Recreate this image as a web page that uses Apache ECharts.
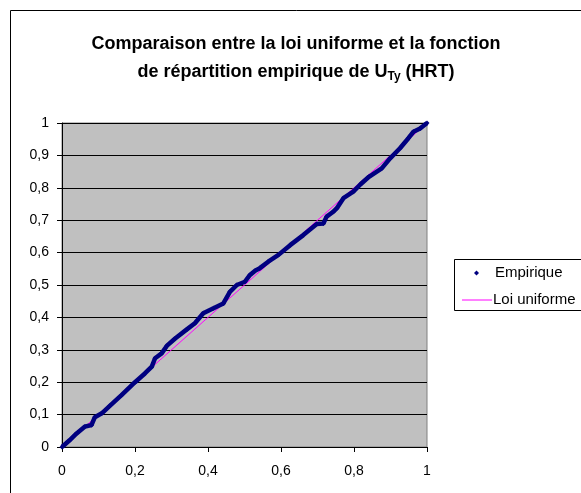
<!DOCTYPE html>
<html>
<head>
<meta charset="utf-8">
<script src="https://cdn.jsdelivr.net/npm/echarts@6/dist/echarts.min.js"></script>
<style>
  html, body { margin: 0; padding: 0; background: #fff; }
  #chart { width: 581px; height: 493px; }
</style>
</head>
<body>
<div id="chart"></div>
<script>
// Empirical distribution function of U_Ty (HRT): sorted sample values and cumulative frequency
const empX = [0, 0.02, 0.04, 0.063, 0.081, 0.09, 0.109, 0.131, 0.163, 0.2, 0.227, 0.246, 0.255, 0.273,
  0.287, 0.31, 0.342, 0.364, 0.387, 0.415, 0.442, 0.46, 0.479, 0.501, 0.515, 0.53, 0.542, 0.565,
  0.593, 0.625, 0.661, 0.698, 0.716, 0.725, 0.743, 0.753, 0.771, 0.798, 0.818, 0.841, 0.876, 0.899,
  0.926, 0.949, 0.963, 0.981, 1];
const empY = [0, 0.02, 0.042, 0.063, 0.068, 0.092, 0.104, 0.127, 0.16, 0.2, 0.227, 0.248, 0.274, 0.289,
  0.312, 0.335, 0.363, 0.382, 0.413, 0.428, 0.443, 0.479, 0.5, 0.51, 0.531, 0.545, 0.552, 0.572,
  0.593, 0.623, 0.654, 0.688, 0.69, 0.711, 0.726, 0.737, 0.768, 0.788, 0.811, 0.834, 0.86, 0.891,
  0.922, 0.953, 0.973, 0.983, 1];

// Uniform distribution function on [0, 1]
const unifX = [0, 1];
const unifY = [0, 1];

const seriesNames = ['Empirique', 'Loi uniforme'];
const titleLines = ['Comparaison entre la loi uniforme et la fonction', 'de répartition empirique de U', 'Ty', ' (HRT)'];

const FONT = '"Liberation Sans", Arial, sans-serif';
const fmt = v => String(v).replace('.', ',');
const zip = (a, b) => a.map((v, i) => [v, b[i]]);

const chart = echarts.init(document.getElementById('chart'), null, { renderer: 'canvas' });

chart.setOption({
  animation: false,
  backgroundColor: '#ffffff',
  textStyle: { fontFamily: FONT },
  title: {
    text: '{t|' + titleLines[0] + '}\n{t|' + titleLines[1] + '}{s|' + titleLines[2] + '}{t|' + titleLines[3] + '}',
    left: 291,
    top: 25,
    textAlign: 'center',
    textStyle: {
      rich: {
        t: { fontFamily: FONT, fontSize: 18, fontWeight: 'bold', color: '#000', lineHeight: 28 },
        s: { fontFamily: FONT, fontSize: 12, fontWeight: 'bold', color: '#000', lineHeight: 28,
             padding: [9, 0, 0, 0] }
      }
    }
  },
  graphic: [
    { type: 'rect', silent: true, z: -10,
      shape: { x: 10.5, y: 10.5, width: 620, height: 520 },
      style: { fill: 'none', stroke: '#000', lineWidth: 1 } },
    { type: 'rect', silent: true, z: -10,
      shape: { x: 454.5, y: 259.5, width: 160, height: 51 },
      style: { fill: '#fff', stroke: '#000', lineWidth: 1 } }
  ],
  legend: [
    {
      data: [{ name: seriesNames[0], icon: 'diamond' }],
      left: 474, top: 265, padding: 0,
      itemWidth: 5, itemHeight: 5,
      textStyle: { fontFamily: FONT, fontSize: 15, lineHeight: 16, color: '#000', padding: [0, 0, 0, 11] },
      selectedMode: false
    },
    {
      data: [{ name: seriesNames[1], icon: 'rect' }],
      left: 462, top: 292, padding: 0,
      itemWidth: 30, itemHeight: 1,
      textStyle: { fontFamily: FONT, fontSize: 15, lineHeight: 16, color: '#000', padding: [0, 0, 0, -4] },
      selectedMode: false
    }
  ],
  grid: {
    left: 62, right: 154, top: 123, bottom: 46,
    show: true,
    backgroundColor: '#c0c0c0',
    borderColor: '#808080',
    borderWidth: 1
  },
  xAxis: {
    type: 'value', min: 0, max: 1, interval: 0.2,
    axisLine: { show: true, onZero: false, lineStyle: { color: '#000', width: 1 } },
    axisTick: { show: true, inside: false, length: 5, lineStyle: { color: '#000' } },
    splitLine: { show: false },
    axisLabel: { color: '#000', fontSize: 14, fontFamily: FONT, margin: 17, formatter: fmt }
  },
  yAxis: {
    type: 'value', min: 0, max: 1, interval: 0.1,
    axisLine: { show: true, onZero: false, lineStyle: { color: '#000', width: 1 } },
    axisTick: { show: true, inside: false, length: 5, lineStyle: { color: '#000' } },
    splitLine: { show: true, lineStyle: { color: '#000', width: 1 } },
    axisLabel: { color: '#000', fontSize: 14, fontFamily: FONT, margin: 13, formatter: fmt }
  },
  series: [
    {
      name: seriesNames[0],
      type: 'line',
      z: 3,
      data: zip(empX, empY),
      symbol: 'diamond',
      symbolSize: 5,
      showSymbol: true,
      itemStyle: { color: '#000080' },
      lineStyle: { color: '#000080', width: 4.5 },
      emphasis: { disabled: true }
    },
    {
      name: seriesNames[1],
      type: 'line',
      z: 2,
      data: zip(unifX, unifY),
      symbol: 'none',
      itemStyle: { color: '#ff00ff' },
      lineStyle: { color: '#ff00ff', width: 1 },
      emphasis: { disabled: true }
    }
  ]
});
</script>
</body>
</html>
